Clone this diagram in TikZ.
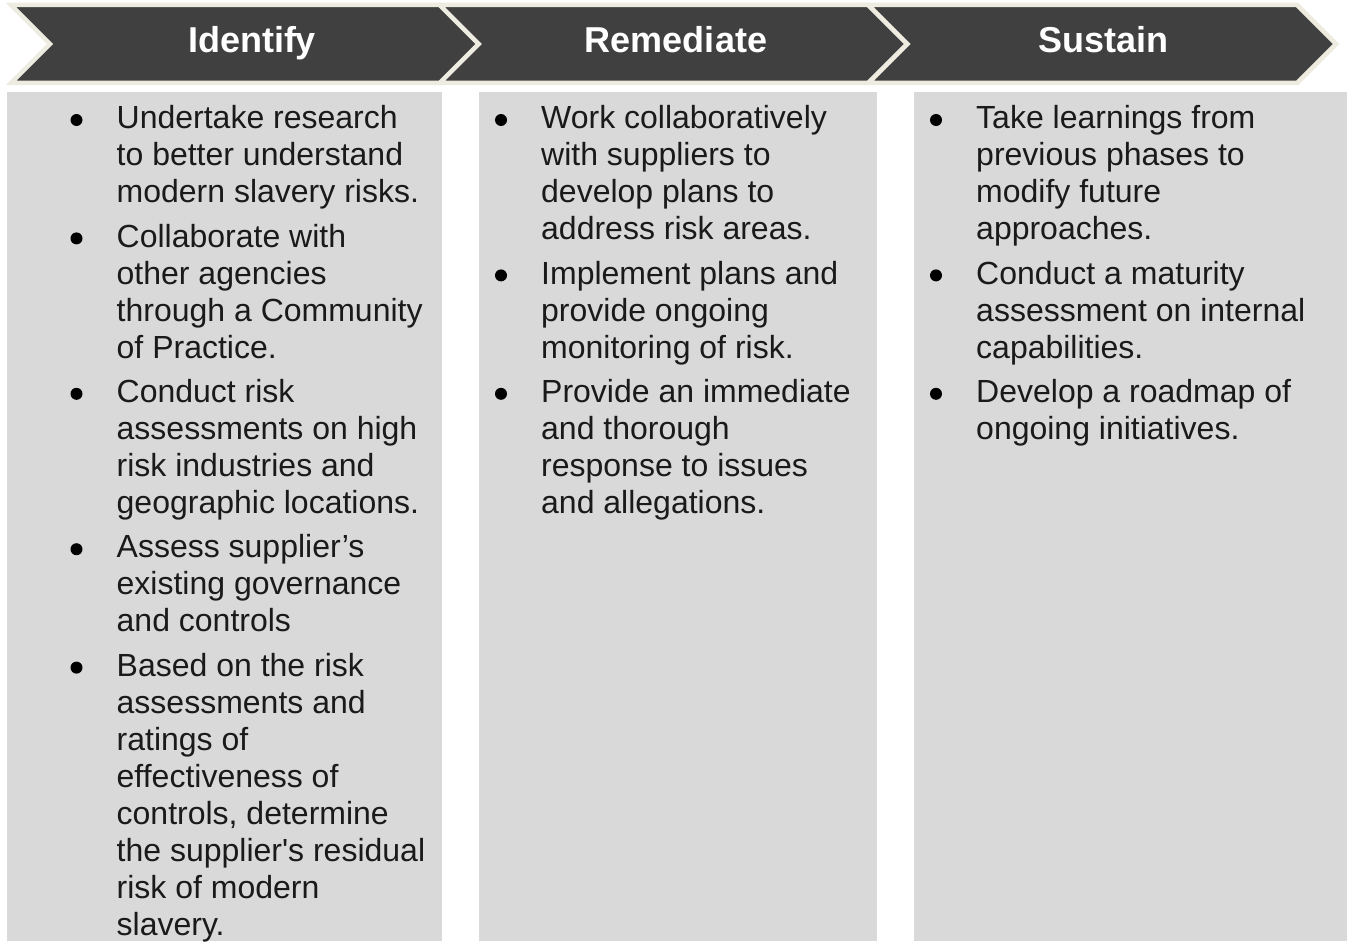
\documentclass[tikz,border=0pt]{standalone}
\usepackage{fontspec}
\setmainfont{Liberation Sans}
\usetikzlibrary{positioning}

\definecolor{chevronfill}{HTML}{404040}
\definecolor{chevronline}{HTML}{EEECE1}
\definecolor{panelgray}{HTML}{D9D9D9}
\definecolor{bodytext}{HTML}{1A1A1A}

\tikzset{
  chevron/.style={fill=chevronfill, draw=chevronline, line width=4.5pt},
  header/.style={text=white, font=\fontsize{36pt}{43pt}\selectfont\bfseries, anchor=base, inner sep=0pt},
  panel/.style={fill=panelgray, anchor=north west, inner sep=0pt},
  point/.style={text=bodytext, font=\fontsize{32pt}{37pt}\selectfont, align=left, anchor=north west, inner sep=0pt},
  dot/.style={circle, fill=black, inner sep=0pt, minimum size=12pt}
}

\begin{document}
\begin{tikzpicture}[x=1pt, y=-1pt]
\useasboundingbox (0,0) rectangle (1347,942);

% phase arrows along the top
\foreach \x/\n/\t/\c in {11/identify/Identify/252, 439.7/remediate/Remediate/676, 868.4/sustain/Sustain/1103.5} {
  \draw[chevron] (\x,5) -- ++(428.7,0) -- ++(39,39) -- ++(-39,39) -- ++(-428.7,0) -- ++(39,-39) -- cycle;
  \node[header] (\n) at (\c,52.7) {\t};
}

% grey columns
\node[panel, minimum width=435pt, minimum height=849pt] (identifypanel) at (7,92) {};
\node[panel, minimum width=398pt, minimum height=849pt] (remediatepanel) at (479,92) {};
\node[panel, minimum width=433pt, minimum height=849pt] (sustainpanel) at (914,92) {};

% Identify
\node[point] (ia) at (116.5,102.6) {\strut Undertake research\\to better understand\\modern slavery risks.\strut};
\node[point, below=7pt of ia.south west, anchor=north west] (ib) {\strut Collaborate with\\other agencies\\through a Community\\of Practice.\strut};
\node[point, below=7pt of ib.south west, anchor=north west] (ic) {\strut Conduct risk\\assessments on high\\risk industries and\\geographic locations.\strut};
\node[point, below=7pt of ic.south west, anchor=north west] (id) {\strut Assess supplier’s\\existing governance\\and controls\strut};
\node[point, below=7pt of id.south west, anchor=north west] (ie) {\strut Based on the risk\\assessments and\\ratings of\\effectiveness of\\controls, determine\\the supplier\textquotesingle s residual\\risk of modern\\slavery.\strut};

% Remediate
\node[point] (ra) at (541,102.6) {\strut Work collaboratively\\with suppliers to\\develop plans to\\address risk areas.\strut};
\node[point, below=7pt of ra.south west, anchor=north west] (rb) {\strut Implement plans and\\provide ongoing\\monitoring of risk.\strut};
\node[point, below=7pt of rb.south west, anchor=north west] (rc) {\strut Provide an immediate\\and thorough\\response to issues\\and allegations.\strut};

% Sustain
\node[point] (sa) at (976,102.6) {\strut Take learnings from\\previous phases to\\modify future\\approaches.\strut};
\node[point, below=7pt of sa.south west, anchor=north west] (sb) {\strut Conduct a maturity\\assessment on internal\\capabilities.\strut};
\node[point, below=7pt of sb.south west, anchor=north west] (sc) {\strut Develop a roadmap of\\ongoing initiatives.\strut};

% bullets
\foreach \n in {ia,ib,ic,id,ie,ra,rb,rc,sa,sb,sc}
  \node[dot] (dot-\n) at ([shift={(-40pt,-17.4pt)}]\n.north west) {};
\end{tikzpicture}
\end{document}
